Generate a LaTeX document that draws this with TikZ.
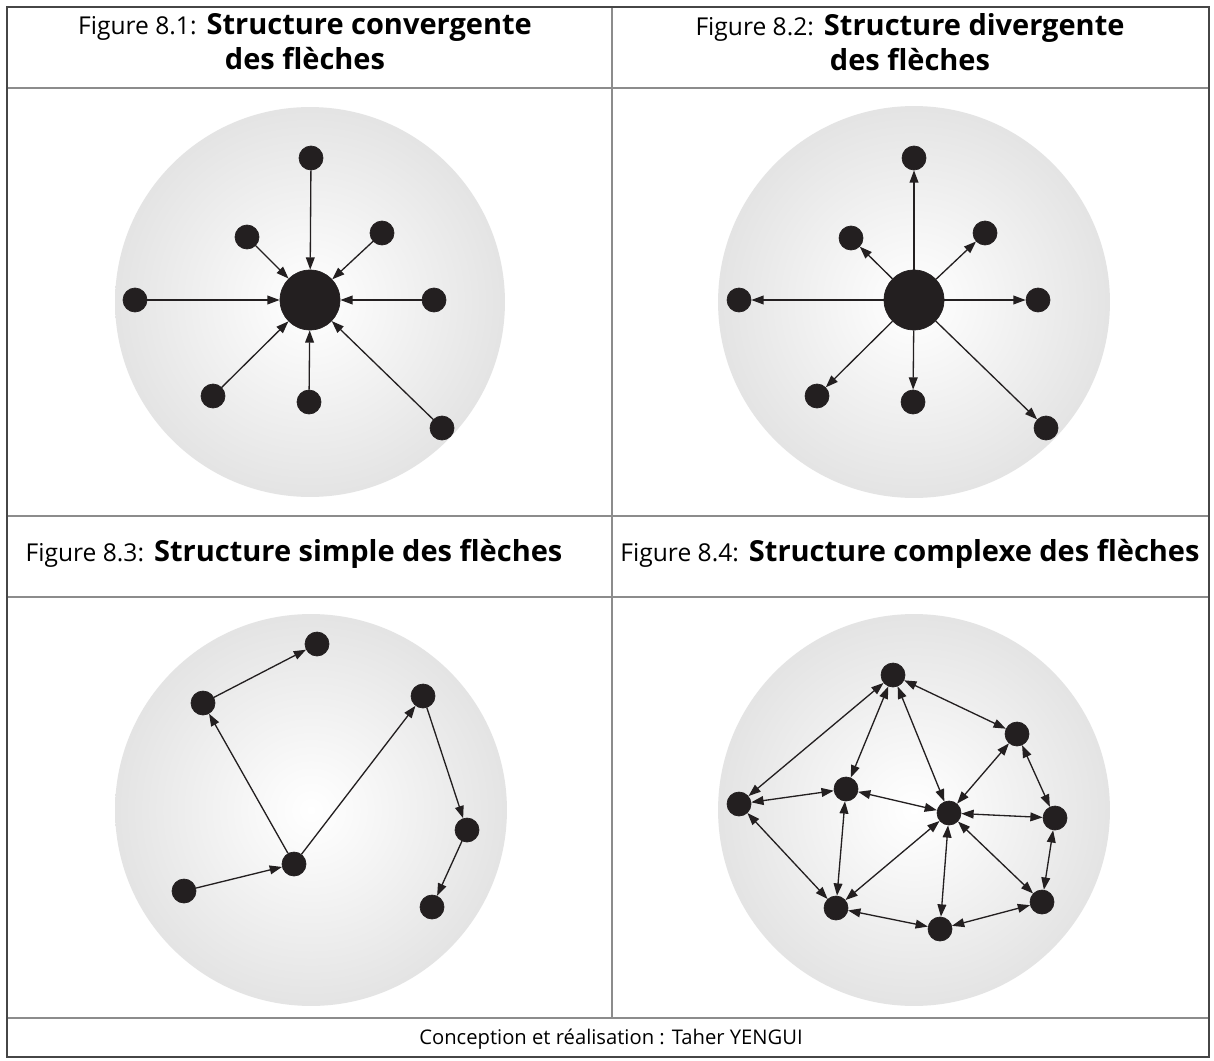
\documentclass[tikz,border=0pt]{standalone}
\usepackage{fontspec}
\setmainfont{Open Sans}
\usetikzlibrary{arrows.meta}

\definecolor{encre}{HTML}{231F20}
\definecolor{trait}{HTML}{8C8C8C}
\pgfdeclareradialshading{boule}{\pgfpoint{0bp}{0bp}}{color(0bp)=(white); color(5bp)=(white!98!black); color(28bp)=(black!12); color(46bp)=(black!22); color(50bp)=(black!24)}

\newcommand\figlabel[1]{{\mdseries\fontsize{14}{20}\selectfont Figure #1:}}

\tikzset{
  disk/.style={circle, fill=encre, draw=encre, inner sep=0pt, minimum size=0.48cm},
  hubdisk/.style={disk, minimum size=1.2cm},
  arr/.style={draw=encre, line width=0.75pt, -{Triangle[length=7pt,width=5pt]}},
  arrs/.style={arr, {Triangle[length=7pt,width=5pt]}-{Triangle[length=7pt,width=5pt]}},
  titre/.style={align=center, font=\fontsize{16.5}{20}\selectfont\bfseries, inner sep=0pt},
}

\begin{document}
\begin{tikzpicture}[x=0.02cm,y=-0.02cm]
\useasboundingbox (0,0) rectangle (1214,1061);
\fill[white] (0,0) rectangle (1214,1061);

% cadre du tableau
\draw[trait, line width=0.7pt] (612,7) -- (612,1018);
\draw[trait, line width=0.7pt] (7,88) -- (1209,88);
\draw[trait, line width=0.7pt] (7,516) -- (1209,516);
\draw[trait, line width=0.7pt] (7,597) -- (1209,597);
\draw[trait, line width=0.7pt] (7,1018) -- (1209,1018);
\draw[gray!55!black, line width=1.2pt] (7,7) rectangle (1209,1057);

% titres
\node[titre] (t1) at (305,42) {\figlabel{8.1} Structure convergente\\des flèches};
\node[titre] (t2) at (910,42) {\figlabel{8.2} Structure divergente\\des flèches};
\node[titre] (t3) at (294,554) {\figlabel{8.3} Structure simple des flèches};
\node[titre] (t4) at (910,554) {\figlabel{8.4} Structure complexe des flèches};

% spheres
\shade[shading=boule] (310,302) circle (3.9cm);
\shade[shading=boule] (914,302) circle (3.92cm);
\shade[shading=boule] (311,810) circle (3.92cm);
\shade[shading=boule] (914,810) circle (3.92cm);

% figure 8.1
\node[hubdisk] (a0) at (310,300) {};
\node[disk] (a1) at (311,158) {};
\node[disk] (a2) at (247,237) {};
\node[disk] (a3) at (382,233) {};
\node[disk] (a4) at (135,300) {};
\node[disk] (a5) at (434,300) {};
\node[disk] (a6) at (213,396) {};
\node[disk] (a7) at (309,402) {};
\node[disk] (a8) at (442,428) {};
\foreach \n in {1,...,8}
  \draw[arr] (a\n) -- (a0);

% figure 8.2
\node[hubdisk] (b0) at (914,300) {};
\node[disk] (b1) at (914,158) {};
\node[disk] (b2) at (851,238) {};
\node[disk] (b3) at (985,233) {};
\node[disk] (b4) at (739,300) {};
\node[disk] (b5) at (1038,300) {};
\node[disk] (b6) at (817,396) {};
\node[disk] (b7) at (913,402) {};
\node[disk] (b8) at (1046,428) {};
\foreach \n in {1,...,8}
  \draw[arr] (b0) -- (b\n);

% figure 8.3
\node[disk] (c1) at (317,644) {};
\node[disk] (c2) at (203,703) {};
\node[disk] (c3) at (423,696) {};
\node[disk] (c4) at (467,830) {};
\node[disk] (c5) at (432,907) {};
\node[disk] (c6) at (294,864) {};
\node[disk] (c7) at (184,891) {};
\foreach \u/\v in {7/6,6/2,2/1,6/3,3/4,4/5}
  \draw[arr] (c\u) -- (c\v);

% figure 8.4
\node[disk] (d1) at (893,675) {};
\node[disk] (d2) at (1017,734) {};
\node[disk] (d3) at (739,804) {};
\node[disk] (d4) at (846,789) {};
\node[disk] (d5) at (949,813) {};
\node[disk] (d6) at (1055,818) {};
\node[disk] (d7) at (836,908) {};
\node[disk] (d8) at (940,929) {};
\node[disk] (d9) at (1042,902) {};
\foreach \u/\v in {1/3,1/4,1/5,1/2,2/5,2/6,3/4,3/7,4/5,4/7,5/7,5/6,5/8,5/9,6/9,7/8,8/9}
  \draw[arrs] (d\u) -- (d\v);

% pied
\node[font=\fontsize{11.5}{14}\selectfont, inner sep=0pt] (credit) at (611,1039) {Conception et réalisation : Taher YENGUI};
\end{tikzpicture}
\end{document}
